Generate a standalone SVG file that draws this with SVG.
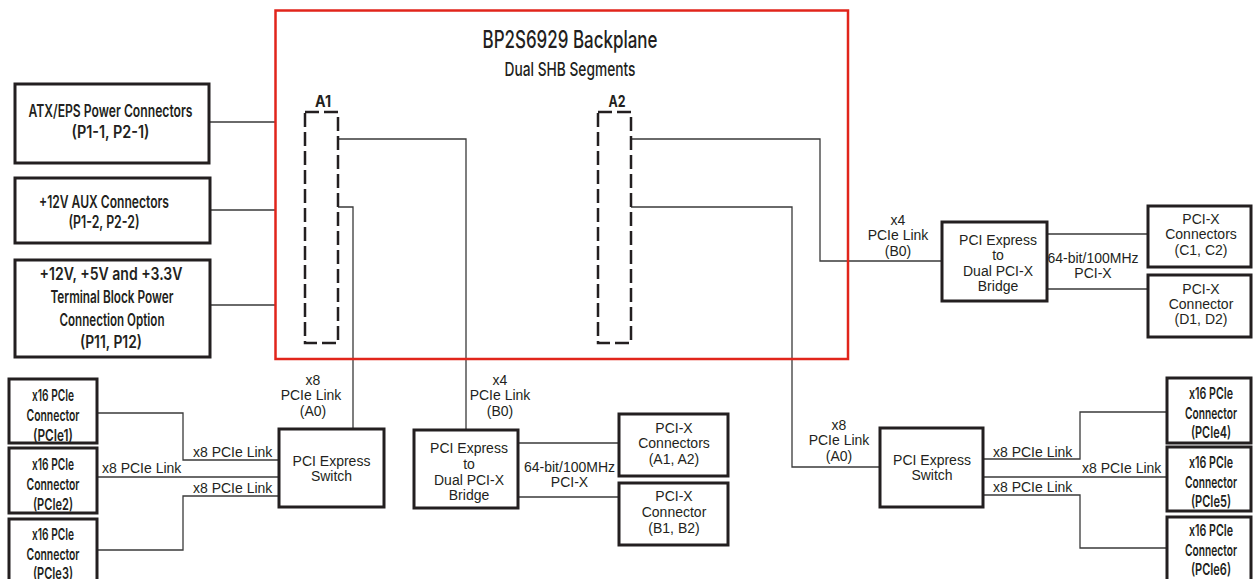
<svg xmlns="http://www.w3.org/2000/svg" width="1253" height="579" viewBox="0 0 1253 579">
<style>
.bx{fill:#fff;stroke:#231f20;stroke-width:3}
.ln{fill:none;stroke:#3a3a3a;stroke-width:1.3}
.f{font-family:Inter,"DejaVu Sans Condensed",sans-serif;font-weight:500;fill:#231f20;text-anchor:middle}
.a{font-family:"Liberation Sans",Arial,sans-serif;font-size:14px;fill:#231f20;text-anchor:middle}
.s{text-anchor:start}
.p{font-size:17px;font-weight:600}
.c{font-size:16px;font-weight:600}
.b{font-weight:700}
</style>
<rect width="1253" height="579" fill="#fff"/>
<g id="connectors">
<path class="ln" d="M209 122H275M210 210H275M210 305H275"/>
<path class="ln" d="M338 139H466V430"/>
<path class="ln" d="M338 207H353V429"/>
<path class="ln" d="M631 139H820V261H942"/>
<path class="ln" d="M631 207H792V467H880"/>
<path class="ln" d="M97 413H183V460H279M97 477H279M97 550H183V496H279"/>
<path class="ln" d="M518 443H619M518 497H619"/>
<path class="ln" d="M1047 234H1148M1047 289H1148"/>
<path class="ln" d="M983 459H1080V412H1167M983 477H1167M983 495H1080V548H1167"/>
<text class="a" x="313" y="385">x8</text><text class="a" x="311" y="400">PCIe Link</text><text class="a" x="313" y="416">(A0)</text>
<text class="a" x="500" y="385">x4</text><text class="a" x="500" y="400">PCIe Link</text><text class="a" x="500" y="416">(B0)</text>
<text class="a" x="898" y="225">x4</text><text class="a" x="898" y="240">PCIe Link</text><text class="a" x="898" y="256">(B0)</text>
<text class="a" x="839" y="430">x8</text><text class="a" x="839" y="445">PCIe Link</text><text class="a" x="839" y="461">(A0)</text>
<text class="a s" x="193" y="457">x8 PCIe Link</text>
<text class="a s" x="102" y="473">x8 PCIe Link</text>
<text class="a s" x="193" y="493">x8 PCIe Link</text>
<text class="a s" x="993" y="457">x8 PCIe Link</text>
<text class="a s" x="1082" y="473">x8 PCIe Link</text>
<text class="a s" x="993" y="492">x8 PCIe Link</text>
<text class="a" x="569.5" y="472">64-bit/100MHz</text><text class="a" x="569.5" y="487">PCI-X</text>
<text class="a" x="1093" y="263">64-bit/100MHz</text><text class="a" x="1093" y="278">PCI-X</text>
</g>
<g id="backplane">
<rect x="275.5" y="10.5" width="572.5" height="348.5" fill="none" stroke="#e1251b" stroke-width="2.5"/>
<text class="f" x="570" y="48" font-size="24" textLength="175" lengthAdjust="spacingAndGlyphs">BP2S6929 Backplane</text>
<text class="f" x="570" y="76" font-size="19" textLength="131" lengthAdjust="spacingAndGlyphs">Dual SHB Segments</text>
</g>
<g id="slotA1">
<rect x="305" y="112" width="33" height="231" fill="none" stroke="#231f20" stroke-width="2.5" stroke-dasharray="14 5"/>
<text class="f b" x="323" y="107" font-size="16" textLength="16" lengthAdjust="spacingAndGlyphs">A1</text>
</g>
<g id="slotA2">
<rect x="598" y="112" width="33" height="231" fill="none" stroke="#231f20" stroke-width="2.5" stroke-dasharray="14 5"/>
<text class="f b" x="617" y="107" font-size="16" textLength="17" lengthAdjust="spacingAndGlyphs">A2</text>
</g>
<g id="atx">
<rect class="bx" x="15" y="84" width="194" height="79"/>
<text class="f p" x="110.5" y="117" textLength="164" lengthAdjust="spacingAndGlyphs">ATX/EPS Power Connectors</text>
<text class="f p" x="110.5" y="138" textLength="78" lengthAdjust="spacingAndGlyphs">(P1-1, P2-1)</text>
</g>
<g id="aux">
<rect class="bx" x="15" y="178" width="195" height="65"/>
<text class="f p" x="104" y="208" textLength="130" lengthAdjust="spacingAndGlyphs">+12V AUX Connectors</text>
<text class="f p" x="104" y="228" textLength="71" lengthAdjust="spacingAndGlyphs">(P1-2, P2-2)</text>
</g>
<g id="terminal">
<rect class="bx" x="15" y="260" width="195" height="97"/>
<text class="f p" x="111" y="280" textLength="143" lengthAdjust="spacingAndGlyphs">+12V, +5V and +3.3V</text>
<text class="f p" x="112" y="303" textLength="123" lengthAdjust="spacingAndGlyphs">Terminal Block Power</text>
<text class="f p" x="112" y="326" textLength="105" lengthAdjust="spacingAndGlyphs">Connection Option</text>
<text class="f p" x="111" y="348" textLength="62" lengthAdjust="spacingAndGlyphs">(P11, P12)</text>
</g>
<g id="pcie1">
<rect class="bx" x="9" y="379" width="88" height="64"/>
<text class="f c" x="53" y="401" textLength="42" lengthAdjust="spacingAndGlyphs">x16 PCIe</text>
<text class="f c" x="53" y="421" textLength="53" lengthAdjust="spacingAndGlyphs">Connector</text>
<text class="f c" x="53" y="441" textLength="40" lengthAdjust="spacingAndGlyphs">(PCIe1)</text>
</g>
<g id="pcie2">
<rect class="bx" x="9" y="448" width="88" height="65"/>
<text class="f c" x="53" y="470" textLength="42" lengthAdjust="spacingAndGlyphs">x16 PCIe</text>
<text class="f c" x="53" y="490" textLength="53" lengthAdjust="spacingAndGlyphs">Connector</text>
<text class="f c" x="53" y="510" textLength="40" lengthAdjust="spacingAndGlyphs">(PCIe2)</text>
</g>
<g id="pcie3">
<rect class="bx" x="9" y="519" width="88" height="75"/>
<text class="f c" x="53" y="540" textLength="42" lengthAdjust="spacingAndGlyphs">x16 PCIe</text>
<text class="f c" x="53" y="560" textLength="53" lengthAdjust="spacingAndGlyphs">Connector</text>
<text class="f c" x="53" y="579" textLength="40" lengthAdjust="spacingAndGlyphs">(PCIe3)</text>
</g>
<g id="switchLeft">
<rect class="bx" x="279" y="429" width="105" height="78"/>
<text class="a" x="331.5" y="466">PCI Express</text>
<text class="a" x="331.5" y="481">Switch</text>
</g>
<g id="bridgeLeft">
<rect class="bx" x="414" y="430" width="104" height="78"/>
<text class="a" x="469" y="453">PCI Express</text>
<text class="a" x="469" y="469">to</text>
<text class="a" x="469" y="485">Dual PCI-X</text>
<text class="a" x="469" y="500">Bridge</text>
</g>
<g id="pcixA">
<rect class="bx" x="619" y="414" width="109" height="62"/>
<text class="a" x="674" y="433">PCI-X</text>
<text class="a" x="674" y="448">Connectors</text>
<text class="a" x="674" y="464">(A1, A2)</text>
</g>
<g id="pcixB">
<rect class="bx" x="619" y="483" width="109" height="62"/>
<text class="a" x="674" y="501">PCI-X</text>
<text class="a" x="674" y="517">Connector</text>
<text class="a" x="674" y="533">(B1, B2)</text>
</g>
<g id="bridgeRight">
<rect class="bx" x="942" y="222" width="105" height="79"/>
<text class="a" x="998" y="245">PCI Express</text>
<text class="a" x="998" y="260">to</text>
<text class="a" x="998" y="276">Dual PCI-X</text>
<text class="a" x="998" y="291">Bridge</text>
</g>
<g id="pcixC">
<rect class="bx" x="1148" y="206" width="103" height="61"/>
<text class="a" x="1201" y="224">PCI-X</text>
<text class="a" x="1201" y="239">Connectors</text>
<text class="a" x="1201" y="255">(C1, C2)</text>
</g>
<g id="pcixD">
<rect class="bx" x="1148" y="275" width="103" height="62"/>
<text class="a" x="1201" y="294">PCI-X</text>
<text class="a" x="1201" y="309">Connector</text>
<text class="a" x="1201" y="324">(D1, D2)</text>
</g>
<g id="switchRight">
<rect class="bx" x="880" y="428" width="103" height="79"/>
<text class="a" x="932" y="465">PCI Express</text>
<text class="a" x="932" y="480">Switch</text>
</g>
<g id="pcie4">
<rect class="bx" x="1167" y="378" width="84" height="65"/>
<text class="f c" x="1211" y="399" textLength="44" lengthAdjust="spacingAndGlyphs">x16 PCIe</text>
<text class="f c" x="1211" y="419" textLength="52" lengthAdjust="spacingAndGlyphs">Connector</text>
<text class="f c" x="1211" y="438" textLength="40" lengthAdjust="spacingAndGlyphs">(PCIe4)</text>
</g>
<g id="pcie5">
<rect class="bx" x="1167" y="447" width="84" height="64"/>
<text class="f c" x="1211" y="468" textLength="44" lengthAdjust="spacingAndGlyphs">x16 PCIe</text>
<text class="f c" x="1211" y="488" textLength="52" lengthAdjust="spacingAndGlyphs">Connector</text>
<text class="f c" x="1211" y="507" textLength="40" lengthAdjust="spacingAndGlyphs">(PCIe5)</text>
</g>
<g id="pcie6">
<rect class="bx" x="1167" y="517" width="84" height="75"/>
<text class="f c" x="1211" y="536" textLength="44" lengthAdjust="spacingAndGlyphs">x16 PCIe</text>
<text class="f c" x="1211" y="556" textLength="52" lengthAdjust="spacingAndGlyphs">Connector</text>
<text class="f c" x="1211" y="575" textLength="40" lengthAdjust="spacingAndGlyphs">(PCIe6)</text>
</g>
</svg>
